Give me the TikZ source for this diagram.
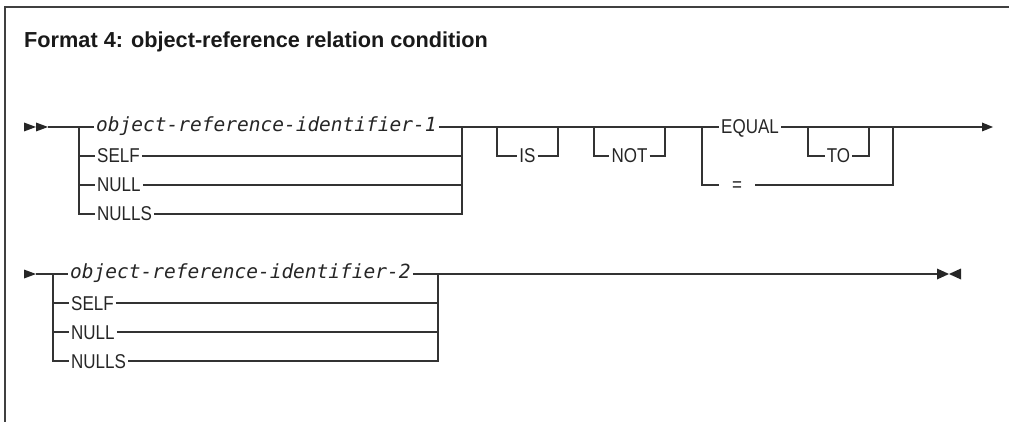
\documentclass[tikz,border=0pt]{standalone}
\usepackage{fontspec}
\usepackage{tikz}
\usetikzlibrary{calc}
\newfontfamily\titlefont{Liberation Sans}
\newfontfamily\kwfont[FakeStretch=0.85]{Liberation Sans}
\newfontfamily\idfont{DejaVu Sans Mono}

\begin{document}
\begin{tikzpicture}[x=1pt, y=-1pt,
    rail/.style={line width=1.2pt, draw=black!80},
    kw/.style={inner xsep=2pt, inner ysep=0pt, text height=14pt, text depth=0pt, font=\kwfont\fontsize{20}{24}\selectfont, text=black!85},
    ident/.style={inner xsep=2pt, inner ysep=0pt, text height=14pt, text depth=5pt, font=\idfont\itshape\fontsize{19.5}{22}\selectfont, text=black!85},
    tip/.style={fill=black!85}]
    \useasboundingbox (0,0) rectangle (1009,422);

    % Frame and title
    \draw[line width=1.2pt, draw=black!75] (5,422) -- (5,7) -- (1009,7);
    \node[anchor=base west, inner sep=0pt, font=\titlefont\bfseries\fontsize{21.7}{26}\selectfont, text=black!90] (title) at (24,48) {Format 4: object-reference relation condition};

    % Row 1: start marker
    \fill[tip] (24,122.5) -- (36,127) -- (24,131.5) -- cycle;
    \fill[tip] (36,122.5) -- (48,127) -- (36,131.5) -- cycle;
    \coordinate (s1) at (48,127);
    \coordinate (br1) at (79,127);
    \coordinate (mg1) at (462,127);

    % Row 1: first operand
    \node[ident, anchor=west] (obj1) at (94,127) {object-reference-identifier-1};
    \node[kw, anchor=west] (self1) at (95,156) {SELF};
    \node[kw, anchor=west] (null1) at (95,185) {NULL};
    \node[kw, anchor=west] (nulls1) at (95,214) {NULLS};

    \draw[rail] (s1) -- (obj1.west);
    \draw[rail] (br1) |- (nulls1.west);
    \draw[rail] (br1 |- self1.west) -- (self1.west);
    \draw[rail] (br1 |- null1.west) -- (null1.west);
    \draw[rail] (obj1.east) -- (mg1);
    \draw[rail] (self1.east) -- (mg1 |- self1.east);
    \draw[rail] (null1.east) -- (mg1 |- null1.east);
    \draw[rail] (nulls1.east) -| (mg1);

    % Row 1: IS, NOT
    \coordinate (isl) at (497,127);
    \coordinate (isr) at (558,127);
    \coordinate (notl) at (594,127);
    \coordinate (notr) at (665,127);
    \node[kw] (is) at (527.5,156) {IS};
    \node[kw] (not) at (629.5,156) {NOT};

    \draw[rail] (mg1) -- (isl) -- (isr) -- (notl) -- (notr);
    \draw[rail] (isl) |- (is.west);
    \draw[rail] (is.east) -| (isr);
    \draw[rail] (notl) |- (not.west);
    \draw[rail] (not.east) -| (notr);

    % Row 1: EQUAL TO / =
    \coordinate (eqb) at (702,127);
    \coordinate (tol) at (808,127);
    \coordinate (tor) at (869,127);
    \coordinate (eqm) at (893,127);
    \coordinate (end1) at (982,127);
    \node[kw, anchor=west] (equal) at (719,127) {EQUAL};
    \node[kw] (to) at (838.5,156) {TO};
    \node[kw, minimum width=36pt] (eqsign) at (737,185) {=};

    \draw[rail] (notr) -- (eqb) -- (equal.west);
    \draw[rail] (eqb) |- (eqsign.west);
    \draw[rail] (equal.east) -- (tol) -- (tor) -- (eqm) -- (end1);
    \draw[rail] (tol) |- (to.west);
    \draw[rail] (to.east) -| (tor);
    \draw[rail] (eqsign.east) -| (eqm);
    \fill[tip] (982,122.5) -- (993,127) -- (982,131.5) -- cycle;

    % Row 2: second operand
    \fill[tip] (24,269.5) -- (36,274) -- (24,278.5) -- cycle;
    \coordinate (s2) at (36,274);
    \coordinate (br2) at (53,274);
    \coordinate (mg2) at (438,274);
    \coordinate (end2) at (937,274);

    \node[ident, anchor=west] (obj2) at (68,274) {object-reference-identifier-2};
    \node[kw, anchor=west] (self2) at (69,303) {SELF};
    \node[kw, anchor=west] (null2) at (69,332) {NULL};
    \node[kw, anchor=west] (nulls2) at (69,361) {NULLS};

    \draw[rail] (s2) -- (obj2.west);
    \draw[rail] (br2) |- (nulls2.west);
    \draw[rail] (br2 |- self2.west) -- (self2.west);
    \draw[rail] (br2 |- null2.west) -- (null2.west);
    \draw[rail] (obj2.east) -- (mg2) -- (end2);
    \draw[rail] (self2.east) -- (mg2 |- self2.east);
    \draw[rail] (null2.east) -- (mg2 |- null2.east);
    \draw[rail] (nulls2.east) -| (mg2);

    % Row 2: end marker
    \fill[tip] (937,268.5) -- (949,274) -- (937,279.5) -- cycle;
    \fill[tip] (961,268.5) -- (949,274) -- (961,279.5) -- cycle;
\end{tikzpicture}
\end{document}
